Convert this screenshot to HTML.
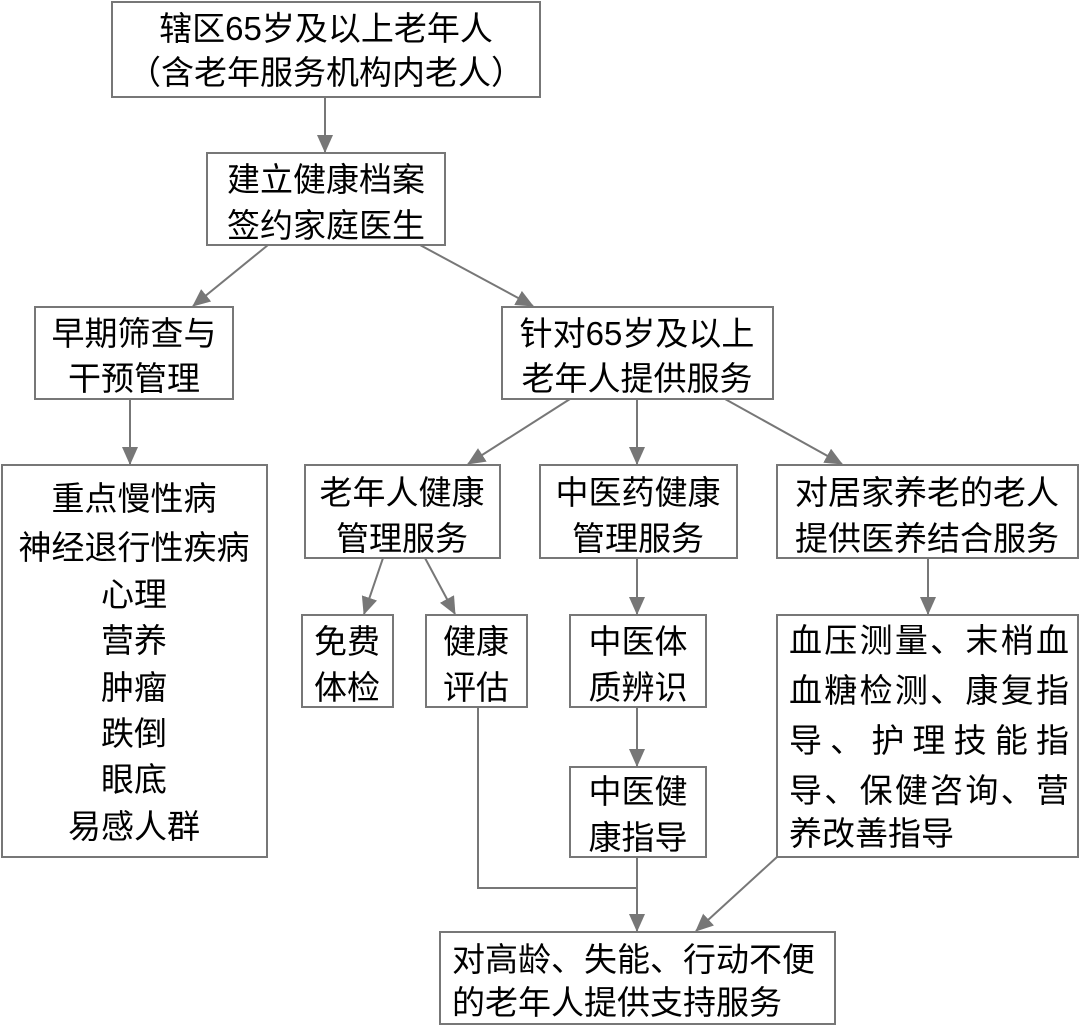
<!DOCTYPE html>
<html><head><meta charset="utf-8"><style>
html,body{margin:0;padding:0;background:#fff;}
svg{display:block}
text{font-family:"Liberation Sans","Noto Sans CJK SC",sans-serif;font-size:33px;fill:#000;}
</style></head><body>
<svg width="1080" height="1027" viewBox="0 0 1080 1027" xmlns="http://www.w3.org/2000/svg">
<defs><marker id="a" markerWidth="18" markerHeight="16" refX="17" refY="8" orient="auto" markerUnits="userSpaceOnUse"><path d="M0,0 L18,8 L0,16 z" fill="#777"/></marker></defs>
<g fill="none" stroke="#777" stroke-width="2">
<rect x="112" y="2" width="428" height="95"/>
<rect x="207" y="153" width="238" height="92"/>
<rect x="35" y="307" width="198" height="92"/>
<rect x="502" y="307" width="271" height="92"/>
<rect x="2" y="465" width="265" height="392"/>
<rect x="305" y="465" width="195" height="93"/>
<rect x="540" y="465" width="197" height="93"/>
<rect x="777" y="465" width="301" height="93"/>
<rect x="302" y="615" width="91" height="92"/>
<rect x="426" y="615" width="101" height="92"/>
<rect x="570" y="615" width="136" height="92"/>
<rect x="570" y="767" width="136" height="90"/>
<rect x="777" y="615" width="301" height="242"/>
<rect x="440" y="932" width="395" height="92"/>
</g>
<g stroke="#777" stroke-width="2" marker-end="url(#a)">
<line x1="325" y1="97" x2="325" y2="152"/>
<line x1="268" y1="245" x2="193" y2="306"/>
<line x1="420" y1="245" x2="533" y2="306"/>
<line x1="130" y1="399" x2="130" y2="464"/>
<line x1="570" y1="399" x2="468" y2="464"/>
<line x1="637" y1="399" x2="637" y2="464"/>
<line x1="725" y1="399" x2="842" y2="464"/>
<line x1="383" y1="558" x2="364" y2="614"/>
<line x1="425" y1="558" x2="455" y2="614"/>
<line x1="637" y1="558" x2="637" y2="614"/>
<line x1="928" y1="558" x2="928" y2="614"/>
<line x1="637" y1="707" x2="637" y2="766"/>
<line x1="637" y1="857" x2="637" y2="931"/>
<line x1="777" y1="857" x2="696" y2="931"/>
</g>
<polyline points="478,707 478,888 637,888" fill="none" stroke="#777" stroke-width="2"/>
<g text-anchor="middle">
<text x="326" y="40">辖区65岁及以上老年人</text>
<text x="326" y="84">（含老年服务机构内老人）</text>
<text x="326" y="191">建立健康档案</text>
<text x="326" y="237">签约家庭医生</text>
<text x="134" y="345">早期筛查与</text>
<text x="134" y="390">干预管理</text>
<text x="637" y="345">针对65岁及以上</text>
<text x="637" y="390">老年人提供服务</text>
<text x="134" y="510">重点慢性病</text>
<text x="134" y="559">神经退行性疾病</text>
<text x="134" y="606">心理</text>
<text x="134" y="652">营养</text>
<text x="134" y="699">肿瘤</text>
<text x="134" y="745">跌倒</text>
<text x="134" y="791">眼底</text>
<text x="134" y="838">易感人群</text>
<text x="402" y="504">老年人健康</text>
<text x="402" y="550">管理服务</text>
<text x="638" y="504">中医药健康</text>
<text x="638" y="550">管理服务</text>
<text x="927" y="504">对居家养老的老人</text>
<text x="927" y="550">提供医养结合服务</text>
<text x="347" y="653">免费</text>
<text x="347" y="699">体检</text>
<text x="476" y="653">健康</text>
<text x="476" y="699">评估</text>
<text x="638" y="653">中医体</text>
<text x="638" y="699">质辨识</text>
<text x="638" y="803">中医健</text>
<text x="638" y="849">康指导</text>
</g>
<text x="789" y="652" textLength="280" lengthAdjust="spacing">血压测量、末梢血</text>
<text x="789" y="702" textLength="280" lengthAdjust="spacing">血糖检测、康复指</text>
<text x="789" y="752" textLength="280" lengthAdjust="spacing">导、护理技能指</text>
<text x="789" y="802" textLength="280" lengthAdjust="spacing">导、保健咨询、营</text>
<text x="789" y="845">养改善指导</text>
<text x="452" y="971">对高龄、失能、行动不便</text>
<text x="452" y="1014">的老年人提供支持服务</text>
</svg>
</body></html>
